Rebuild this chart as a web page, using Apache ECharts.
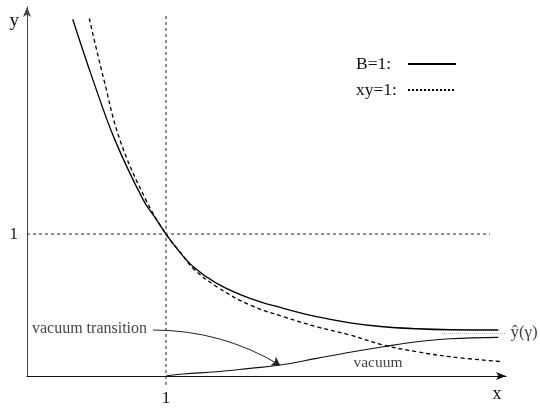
<!DOCTYPE html>
<html>
<head>
<meta charset="utf-8">
<script src="https://cdn.jsdelivr.net/npm/echarts@6/dist/echarts.min.js"></script>
<style>html,body{margin:0;padding:0;background:#fff}#c{width:540px;height:408px}</style>
</head>
<body>
<div id="c"></div>
<script>
// ---- data ----
const seriesNames = ['B=1:', 'xy=1:'];
const curveB = [[0.329,2.514],[0.475,2.085],[0.633,1.662],[0.837,1.239],[0.933,1.099],[1.0,1.0],[1.077,0.899],[1.196,0.770],[1.365,0.653],[1.604,0.547],[1.844,0.477],[2.084,0.418],[2.324,0.375],[2.563,0.347],[2.804,0.333],[3.043,0.326],[3.391,0.324]];
const curveXY = [[0.448,2.519],[0.554,2.085],[0.669,1.662],[0.856,1.239],[1.0,1.0],[1.101,0.875],[1.196,0.758],[1.365,0.629],[1.604,0.500],[1.844,0.418],[2.084,0.347],[2.324,0.289],[2.563,0.218],[2.804,0.171],[3.043,0.136],[3.415,0.101]];
const curveVacuum = [[1.0,0.0],[1.125,0.014],[1.365,0.030],[1.604,0.054],[1.820,0.077],[2.084,0.124],[2.324,0.167],[2.563,0.206],[2.804,0.241],[3.043,0.262],[3.391,0.272]];
const yHatLine = [[2.986,0.299],[3.44,0.299]];
const guideH = [[0,1],[3.33,1]];
const guideV = [[1,-0.063],[1,2.542]];
const arrowFrom = [0.906,0.324];
const arrowTo = [1.820,0.077];
const tickLabelsX = [1];
const tickLabelsY = [1];
const annotations = [
  {text:'vacuum transition', at:[0.878,0.331], pos:'left', size:16},
  {text:'vacuum', at:[2.525,0.092], pos:'inside', size:15.5},
  {text:'ŷ(γ)', at:[3.42,0.303], pos:'right', size:17}
];

const FONT = '"Liberation Serif","DejaVu Serif",serif';
const chart = echarts.init(document.getElementById('c'), null, {renderer:'canvas'});
const option = {
  animation:false,
  backgroundColor:'#fff',
  grid:{left:27, right:34, top:7, bottom:32, containLabel:false},
  legend:{
    left:351, top:50, orient:'vertical', align:'right',
    itemWidth:48, itemHeight:10, itemGap:8,
    itemStyle:{opacity:0},
    formatter:name => '{t|' + name + '}',
    textStyle:{fontFamily:FONT, fontSize:17.5, color:'#111',
      rich:{t:{fontFamily:FONT, fontSize:17.5, color:'#111', width:47, align:'left'}}},
    data:[{name:seriesNames[0]},{name:seriesNames[1], lineStyle:{type:[2,2]}}]
  },
  xAxis:{
    type:'value', min:0, max:3.446, interval:1,
    name:'x', nameLocation:'end', nameGap:-9,
    nameTextStyle:{fontFamily:FONT, fontSize:18, color:'#111', align:'center', verticalAlign:'top', padding:[9,0,0,0]},
    axisLine:{show:true, onZero:false, symbol:['none','arrow'], symbolSize:[6,10], lineStyle:{color:'#111', width:1.2}},
    axisTick:{show:false}, splitLine:{show:false},
    axisLabel:{margin:14, fontFamily:FONT, fontSize:17, color:'#111', showMaxLabel:false,
      formatter:v => tickLabelsX.includes(v) ? String(v) : ''}
  },
  yAxis:{
    type:'value', min:0, max:2.6, interval:1,
    name:'y', nameLocation:'end', nameGap:-14,
    nameTextStyle:{fontFamily:FONT, fontSize:19, color:'#111', align:'right', verticalAlign:'middle', padding:[0,8,0,0]},
    axisLine:{show:true, onZero:false, symbol:['none','arrow'], symbolSize:[6,10], lineStyle:{color:'#444', width:1}},
    axisTick:{show:false}, splitLine:{show:false},
    axisLabel:{margin:9, fontFamily:FONT, fontSize:17, color:'#111', showMaxLabel:false,
      formatter:v => tickLabelsY.includes(v) ? String(v) : ''}
  },
  series:[
    {name:seriesNames[0], type:'line', data:curveB, smooth:0.4, symbol:'none', clip:false,
     lineStyle:{color:'#000', width:1.3, type:'solid'}, itemStyle:{color:'#000'}},
    {name:seriesNames[1], type:'line', data:curveXY, smooth:0.4, symbol:'none', clip:false,
     lineStyle:{color:'#000', width:1.3, type:[4,3]}, itemStyle:{color:'#000'}},
    {name:'vacuum', type:'line', data:curveVacuum, smooth:0.4, symbol:'none', clip:false,
     lineStyle:{color:'#111', width:1.1}, itemStyle:{color:'#111'}},
    {name:'transitionArrow', type:'lines', coordinateSystem:'cartesian2d', silent:true,
     symbol:['none','arrow'], symbolSize:8,
     lineStyle:{color:'#222', width:1, type:'solid', curveness:0.138, opacity:1},
     data:[{coords:[arrowFrom, arrowTo]}]},
    {name:'yhat', type:'line', data:yHatLine, symbol:'none', clip:false,
     lineStyle:{color:'#aaa', width:1, type:[1,1]}},
    {name:'guideH', type:'line', data:guideH, symbol:'none', clip:false,
     lineStyle:{color:'#222', width:1, type:[3,3]}},
    {name:'guideV', type:'line', data:guideV, symbol:'none', clip:false,
     lineStyle:{color:'#222', width:1, type:[3,3]}},
    {name:'notes', type:'scatter', symbolSize:0, clip:false, silent:true,
     data:annotations.map(a => ({value:a.at, label:{show:true, formatter:a.text, position:a.pos, distance:a.pos==='right'?8:2,
       fontFamily:FONT, fontSize:a.size, color:'#111'}}))}
  ]
};
chart.setOption(option);
</script>
</body>
</html>
